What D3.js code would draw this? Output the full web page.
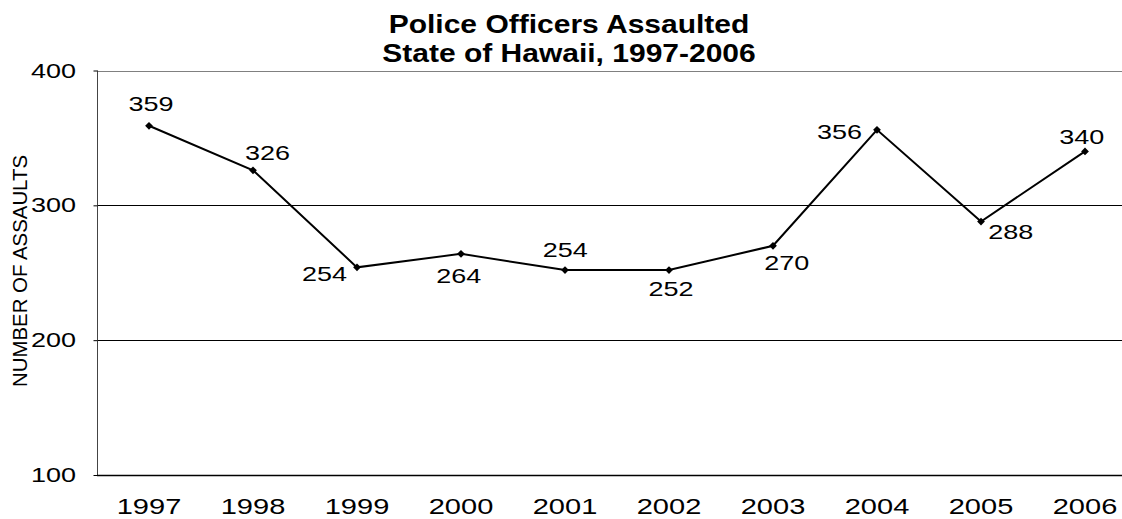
<!DOCTYPE html>
<html>
<head>
<meta charset="utf-8">
<script src="https://cdn.jsdelivr.net/npm/d3@7"></script>
<style>
  html, body { margin: 0; padding: 0; background: #fff; }
  svg { display: block; }
  text { font-family: "Liberation Sans", Arial, sans-serif; fill: #000; }
</style>
</head>
<body>
<svg id="chart" width="1122" height="519"></svg>
<script>
// ---- data ----
const years = ["1997","1998","1999","2000","2001","2002","2003","2004","2005","2006"];
const assaults = [359, 326, 254, 264, 252, 252, 270, 356, 288, 340];
const labelTexts = ["359","326","254","264","254","252","270","356","288","340"];
const yTicks = [100, 200, 300, 400];
const titleLines = ["Police Officers Assaulted", "State of Hawaii, 1997-2006"];
const yAxisTitle = "NUMBER OF ASSAULTS";

// ---- label placement (style, not data): [dx, dy] from point ----
const labelOffsets = [[2,-14.7],[14.5,-10.7],[-32.6,13.3],[-2.3,29.6],[0.3,-13],[2,26],[13.7,24.2],[-37.5,9],[29.8,17.3],[-3.3,-7.3]];

const SX = 1.35; // horizontal text stretch of the reference
const svg = d3.select("#chart");
const plotLeft = 97, plotTop = 70.5, plotBottom = 475, bandW = 104;

const x = d3.scaleBand().domain(years).range([plotLeft, plotLeft + bandW * years.length]).padding(0);
const y = d3.scaleLinear().domain([100, 400]).range([plotBottom, plotTop]);
const cx = d => x(d) + x.bandwidth() / 2;

function stretchedText(g, tx, ty, str, opts) {
  return g.append("text")
    .attr("transform", `translate(${tx},${ty}) scale(${opts.sx || SX},1)`)
    .attr("text-anchor", opts.anchor || "middle")
    .attr("font-size", opts.size)
    .attr("font-weight", opts.weight || "normal")
    .text(str);
}

// gridlines
svg.append("g").selectAll("line").data(yTicks.filter(t => t !== 100 && t !== 400)).join("line")
  .attr("x1", plotLeft).attr("x2", 1122)
  .attr("y1", d => Math.round(y(d)) + 0.5).attr("y2", d => Math.round(y(d)) + 0.5)
  .attr("stroke", "#000").attr("stroke-width", 1);
// top border
svg.append("line").attr("x1", plotLeft).attr("x2", 1122)
  .attr("y1", Math.round(y(400)) + 0.5).attr("y2", Math.round(y(400)) + 0.5)
  .attr("stroke", "#808080").attr("stroke-width", 1);

// y axis
const yAxis = svg.append("g").attr("transform", `translate(${plotLeft + 0.5},0)`)
  .call(d3.axisLeft(y).tickValues(yTicks).tickSize(4).tickFormat(""));
yAxis.select(".domain").attr("stroke", "#444").attr("d", `M0,${plotTop}V${plotBottom}`);
yAxis.selectAll(".tick line").attr("stroke", "#000");
yTicks.forEach(t => stretchedText(svg, 76, y(t) + 7, String(t), {anchor: "end", size: 20}));

// x axis
svg.append("line").attr("x1", plotLeft).attr("x2", 1122)
  .attr("y1", plotBottom + 0.5).attr("y2", plotBottom + 0.5)
  .attr("stroke", "#000").attr("stroke-width", 1.5);
years.forEach(yr => stretchedText(svg, cx(yr), 514, yr, {size: 21.5}));

// line
const pts = years.map((yr, i) => [cx(yr), y(assaults[i])]);
svg.append("path").attr("d", d3.line()(pts))
  .attr("fill", "none").attr("stroke", "#000").attr("stroke-width", 2);

// markers (square diamonds)
svg.append("g").selectAll("path").data(pts).join("path")
  .attr("transform", d => `translate(${d[0]},${d[1]}) rotate(45)`)
  .attr("d", d3.symbol(d3.symbolSquare, 30))
  .attr("fill", "#000");

// data labels
pts.forEach((p, i) => {
  const o = labelOffsets[i];
  stretchedText(svg, p[0] + o[0], p[1] + o[1], labelTexts[i], {size: 20});
});

// title
stretchedText(svg, 569, 32.7, titleLines[0], {size: 25, weight: "bold", sx: 1.2});
stretchedText(svg, 569, 62, titleLines[1], {size: 25, weight: "bold", sx: 1.2});

// y axis title
svg.append("text")
  .attr("transform", `translate(27,271) rotate(-90) scale(1,1.3)`)
  .attr("text-anchor", "middle")
  .attr("font-size", 15.5)
  .attr("textLength", 232)
  .attr("lengthAdjust", "spacingAndGlyphs")
  .text(yAxisTitle);
</script>
</body>
</html>
